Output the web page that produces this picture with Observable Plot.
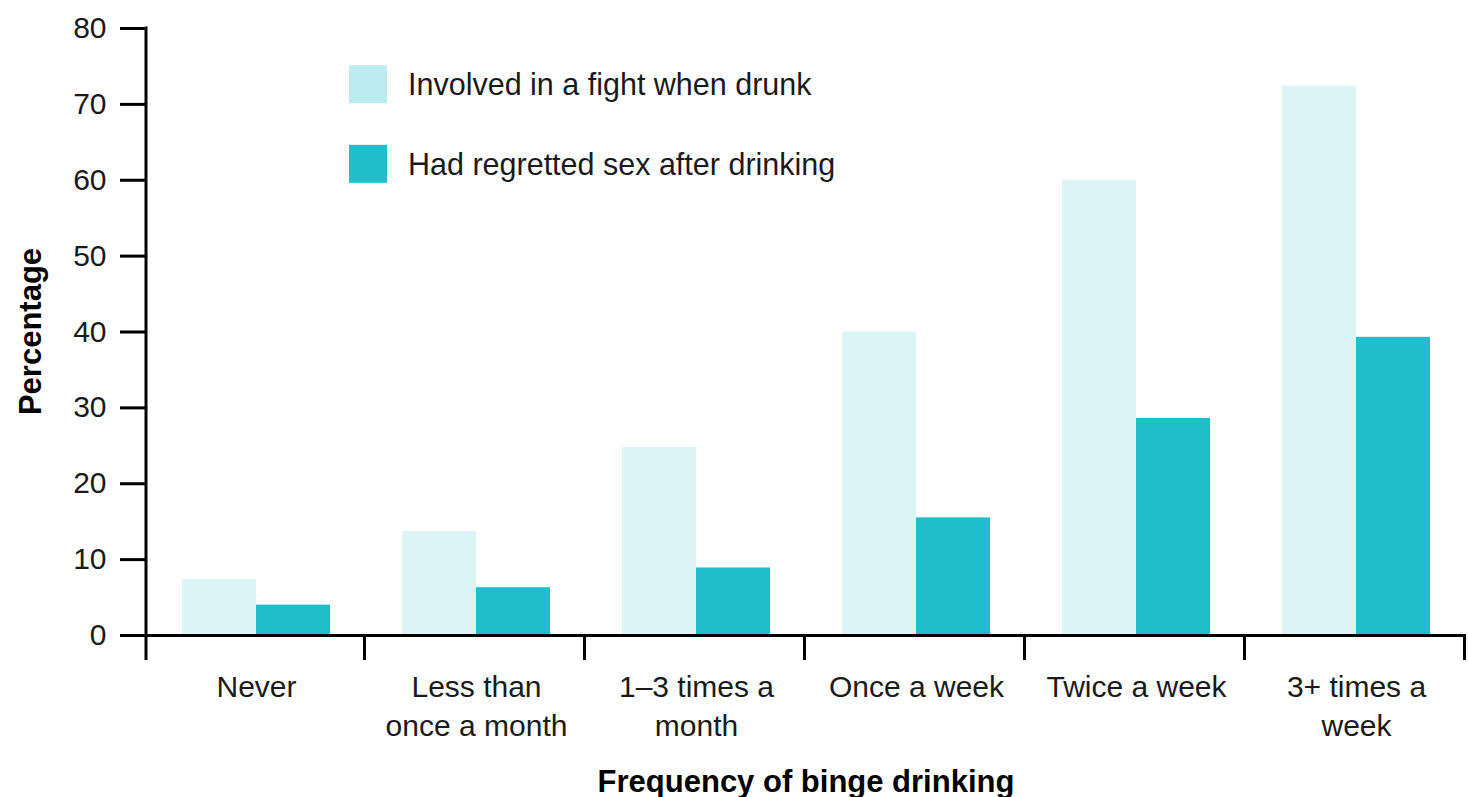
<!DOCTYPE html>
<html><head><meta charset="utf-8">
<script src="https://cdn.jsdelivr.net/npm/d3@7"></script>
<script src="https://cdn.jsdelivr.net/npm/@observablehq/plot@0.6"></script>
<style>body{margin:0;background:#fff} svg{display:block}</style>
</head><body><div id="chart"></div><script>
const categories = ["Never","Less than once a month","1–3 times a month","Once a week","Twice a week","3+ times a week"];
const tickLabels = ["Never","Less than\nonce a month","1–3 times a\nmonth","Once a week","Twice a week","3+ times a\nweek"];
const seriesNames = ["Involved in a fight when drunk","Had regretted sex after drinking"];
const fightValues = [7.4,13.7,24.8,40,60,72.4];
const regretValues = [4,6.3,8.9,15.5,28.6,39.3];
const barColors = ["#ddf4f7","#20becb"];
const legendColors = ["#bcecf0","#20becb"];
const yTicks = [0,10,20,30,40,50,60,70,80];
const yTitle = "Percentage";
const xTitle = "Frequency of binge drinking";

const data = categories.flatMap((c,i)=>[
  {category:c, series:seriesNames[0], value:fightValues[i]},
  {category:c, series:seriesNames[1], value:regretValues[i]}
]);
const font = "'Liberation Sans', Arial, Helvetica, sans-serif";

const plot = Plot.plot({
  width:1468, height:797, marginTop:28, marginBottom:162, marginLeft:146, marginRight:2,
  style:{fontFamily:font, fontSize:"30px", color:"#1a1a1a", background:"#fff", overflow:"visible"},
  fx:{domain:categories, padding:0, label:null},
  x:{domain:seriesNames, paddingInner:0, paddingOuter:0.486, axis:null},
  y:{domain:[0,80], label:null},
  color:{domain:seriesNames, range:barColors},
  marks:[
    Plot.barY(data,{fx:"category", x:"series", y:"value", fill:"series"}),
    Plot.ruleY([0],{stroke:"#000", strokeWidth:3}),
    Plot.axisY({ticks:yTicks, tickSize:26, tickPadding:14, strokeWidth:3, stroke:"#000", label:null}),
    Plot.axisFx({anchor:"bottom", tickSize:0, tickPadding:34, lineHeight:1.3, label:null,
      tickFormat:(d)=>tickLabels[categories.indexOf(d)]})
  ]
});

const svg = d3.select(plot);
const fx = plot.scale("fx"), y = plot.scale("y");
const y0 = y.apply(0), yTop = y.apply(80);
const left = fx.apply(categories[0]);
svg.append("line").attr("x1",left).attr("x2",left).attr("y1",yTop-1.5).attr("y2",y0+25)
  .attr("stroke","#000").attr("stroke-width",3);
categories.forEach(c=>{
  const xr = fx.apply(c)+fx.bandwidth;
  svg.append("line").attr("x1",xr-1.5).attr("x2",xr-1.5).attr("y1",y0).attr("y2",y0+25)
    .attr("stroke","#000").attr("stroke-width",3);
});

// legend
const lg = svg.append("g").attr("text-anchor","start");
seriesNames.forEach((s,i)=>{
  const yy = y.apply(72.6 - i*10.5);
  lg.append("rect").attr("x",349).attr("y",yy-19).attr("width",38).attr("height",38).attr("fill",legendColors[i]);
  lg.append("text").attr("x",408).attr("y",yy).attr("dy","0.36em").attr("font-size",30.5)
    .attr("text-anchor","start").attr("fill","#1a1a1a").text(s);
});

// axis titles
svg.append("text").attr("transform",`translate(41,${(y0+yTop)/2}) rotate(-90)`)
  .attr("text-anchor","middle").attr("font-weight","bold").attr("font-size",31).attr("fill","#000").text(yTitle);
svg.append("text").attr("x",(left+fx.apply(categories[5])+fx.bandwidth)/2).attr("y",792)
  .attr("text-anchor","middle").attr("font-weight","bold").attr("font-size",31).attr("fill","#000").text(xTitle);

document.getElementById("chart").appendChild(plot);
</script></body></html>
